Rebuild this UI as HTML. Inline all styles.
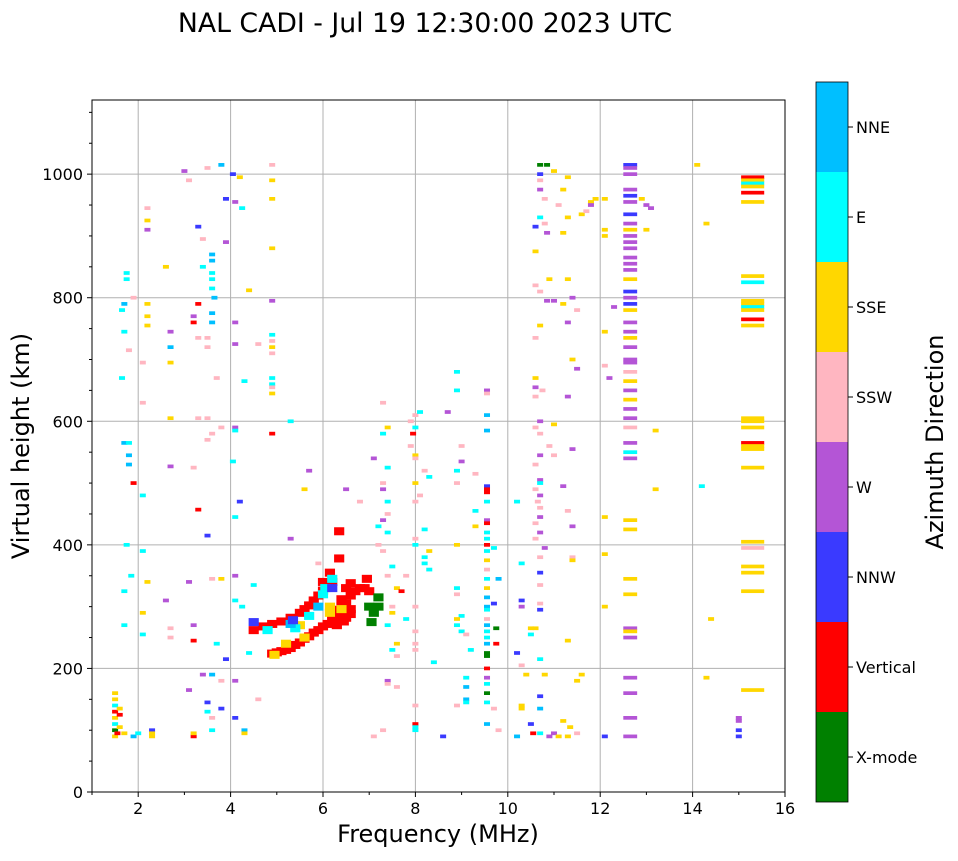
<!DOCTYPE html>
<html><head><meta charset="utf-8">
<style>
html,body{margin:0;padding:0;background:#fff;}
body{width:958px;height:857px;overflow:hidden;font-family:"DejaVu Sans",sans-serif;}
svg text{font-family:"DejaVu Sans",sans-serif;fill:#000;}
</style></head>
<body>
<svg id="chart" width="958" height="857" xmlns="http://www.w3.org/2000/svg">
<text x="425" y="32" font-size="26.7" text-anchor="middle">NAL CADI - Jul 19 12:30:00 2023 UTC</text>
<g id="grid"></g>
<g id="marks"></g>
<rect x="92" y="100" width="693" height="692" fill="none" stroke="#000" stroke-width="1"/>
<g id="axes"></g>
<text x="438" y="842" font-size="24" text-anchor="middle">Frequency (MHz)</text>
<text transform="translate(29,446) rotate(-90)" font-size="24" text-anchor="middle">Virtual height (km)</text>
<g id="cbar"></g>
<text transform="translate(943,442) rotate(-90)" font-size="24" text-anchor="middle">Azimuth Direction</text>
</svg>
<script>
const dirNames = ["X-mode","Vertical","NNW","W","SSW","SSE","E","NNE"];
const dirColors = ["#008000","#ff0000","#3a3aff","#b455d6","#ffb6c1","#ffd700","#00ffff","#00bfff"];
const xTicks = [2,4,6,8,10,12,14,16];
const yTicks = [0,200,400,600,800,1000];
// sweep bandwidth (MHz) of the wide-band columns: [centre freq, width]
const wideColumns = [[12.65,0.3],[15.3,0.5]];
// main trace echoes [freq MHz, height km, direction index]
const mainTrace = [
[4.9,224,1],[5.0,226,1],[5.1,228,1],[5.2,230,1],[5.3,233,1],[5.4,238,1],[5.5,242,1],[5.6,248,1],[5.7,252,1],[5.8,258,1],[5.9,262,1],[6.0,268,1],[6.1,272,1],[6.2,278,1],[6.3,282,1],[6.4,288,1],[6.5,292,1],[6.6,296,1],[6.2,290,1],[6.3,295,1],[6.4,300,1],[6.5,305,1],[6.4,312,1],[6.6,318,1],[6.7,325,1],[6.8,330,1],[6.5,330,1],[6.6,338,1],
[4.5,262,1],[4.7,268,1],[4.9,272,1],[5.1,276,1],[5.3,282,1],[5.5,290,1],[5.6,296,1],[5.7,302,1],[5.8,310,1],[5.9,318,1],[6.0,326,1],[6.1,335,1],[6.2,340,1],[6.0,340,1],
[6.35,422,1],[6.35,378,1],[6.15,355,1],[6.9,330,1],[7.0,325,1],[6.95,345,1],[6.2,285,1],[6.5,282,1],[6.6,288,1],[6.3,270,1],[6.45,276,1],
[6.15,300,5],[6.15,290,5],[5.2,240,5],[4.95,222,5],[5.5,270,5],[5.6,250,5],[6.4,296,5],
[6.0,320,6],[6.05,330,6],[5.7,285,6],[5.4,265,6],[4.8,262,6],[6.2,345,6],[5.9,300,7],[5.3,272,7],
[4.5,275,2],[6.2,330,2],[5.35,278,2],
[7.1,290,0],[7.0,300,0],[7.2,300,0],[7.05,275,0],[7.2,315,0]
];
// scattered echoes [freq MHz, height km, direction index]
const scatter = [
[1.5,90,5],[1.5,100,0],[1.5,110,6],[1.5,120,5],[1.5,130,1],[1.5,140,6],[1.5,150,5],[1.5,160,5],[1.55,95,1],[1.6,105,5],[1.6,125,1],[1.6,135,5],[1.7,95,5],[1.9,90,7],[2.0,95,6],[2.3,90,5],[2.3,100,2],[2.3,95,5],
[1.75,840,6],[1.75,830,6],[1.7,790,7],[1.65,780,6],[1.7,745,6],[1.65,670,6],[1.7,565,7],[1.8,565,6],[1.8,545,7],[1.8,530,7],[1.75,400,6],[1.85,350,6],[1.7,325,6],[1.7,270,6],[1.9,500,1],[1.9,800,4],[1.8,715,4],[2.1,390,6],[2.1,480,6],[2.1,255,6],
[2.2,945,4],[2.2,925,5],[2.2,910,3],[2.2,790,5],[2.2,770,5],[2.2,755,5],[2.1,695,4],[2.1,630,4],[2.2,340,5],[2.1,290,5],[2.6,850,5],[2.7,745,3],[2.7,720,7],[2.7,695,5],[2.7,605,5],[2.7,527,3],[2.7,265,4],[2.7,250,4],[2.6,310,3],
[3.0,1005,3],[3.1,990,4],[3.3,915,2],[3.4,895,4],[3.3,790,1],[3.2,760,1],[3.2,770,3],[3.3,735,4],[3.3,605,4],[3.5,605,4],[3.2,525,4],[3.3,457,1],[3.1,340,3],[3.2,245,1],[3.2,270,3],[3.4,190,3],[3.1,165,3],[3.2,90,1],[3.2,95,5],
[3.5,1010,4],[3.6,870,7],[3.6,860,7],[3.6,840,6],[3.6,830,6],[3.6,815,6],[3.65,800,7],[3.6,775,7],[3.6,760,7],[3.5,735,4],[3.5,720,4],[3.6,580,4],[3.5,570,4],[3.5,415,2],[3.6,345,4],[3.7,240,6],[3.6,190,7],[3.5,145,2],[3.5,130,6],[3.6,120,4],[3.6,100,6],[3.8,1015,7],[3.9,960,2],[3.9,890,3],[3.7,670,4],[3.8,590,4],[3.8,345,5],[3.9,215,2],[3.8,180,4],[3.8,135,2],[3.4,850,6],
[4.05,1000,2],[4.2,995,5],[4.1,955,3],[4.25,945,6],[4.1,760,3],[4.1,725,3],[4.1,590,3],[4.1,585,6],[4.05,535,6],[4.2,470,2],[4.1,445,6],[4.1,350,3],[4.1,310,6],[4.25,300,6],[4.1,180,3],[4.1,120,2],[4.3,100,7],[4.3,95,5],[4.4,812,5],[4.3,665,6],[4.4,225,6],[4.6,150,4],[4.5,335,6],[4.6,725,4],
[4.9,1015,4],[4.9,990,5],[4.9,960,5],[4.9,880,5],[4.9,795,3],[4.9,740,6],[4.9,730,4],[4.9,720,5],[4.9,710,4],[4.9,670,6],[4.9,660,6],[4.9,655,4],[4.9,645,5],[4.9,580,1],[5.3,600,6],[5.7,520,3],[5.6,490,5],[5.3,410,3],[5.9,370,4],[6.5,490,3],[6.8,470,4],[7.2,400,4],
[7.3,630,4],[7.4,590,5],[7.3,580,6],[7.1,540,3],[7.4,525,6],[7.3,500,4],[7.3,490,3],[7.4,470,6],[7.4,450,4],[7.3,440,3],[7.2,430,6],[7.4,420,6],[7.3,390,4],[7.5,365,6],[7.4,350,4],[7.6,330,5],[7.5,300,4],[7.5,290,5],[7.4,270,6],[7.6,240,5],[7.5,230,6],[7.6,220,4],[7.4,180,3],[7.4,175,4],[7.6,170,4],[7.3,100,4],[7.1,90,4],[7.7,325,1],[7.8,280,6],[7.9,560,4],
[8.0,610,4],[8.1,615,6],[7.9,600,4],[8.0,590,6],[7.95,580,1],[8.0,545,5],[8.0,540,4],[8.2,520,4],[8.3,510,6],[8.0,500,5],[8.1,480,4],[8.0,470,4],[8.2,425,6],[8.0,410,4],[8.0,400,6],[8.3,390,5],[8.2,380,6],[8.2,370,6],[8.3,360,6],[7.8,350,4],[8.0,300,4],[8.0,260,4],[8.0,240,4],[8.0,230,4],[8.0,140,4],[8.0,110,1],[8.0,105,6],[8.0,100,6],[8.4,210,6],[8.7,615,3],[8.6,90,2],
[8.9,680,6],[8.9,650,6],[9.0,560,4],[9.0,535,3],[8.9,520,6],[8.9,500,4],[8.9,400,5],[8.9,330,6],[8.9,320,4],[9.0,285,6],[8.9,280,5],[8.9,270,6],[9.0,260,6],[9.1,255,4],[9.2,230,6],[8.9,140,4],[9.1,185,6],[9.1,170,7],[9.1,150,7],[9.1,145,6],[9.3,515,4],[9.3,430,5],[9.3,455,6],
[9.55,650,3],[9.55,645,4],[9.55,610,7],[9.55,585,7],[9.55,495,2],[9.55,490,1],[9.55,485,1],[9.55,470,6],[9.55,440,3],[9.55,435,1],[9.55,420,6],[9.55,410,6],[9.55,400,1],[9.55,390,6],[9.55,375,5],[9.55,360,4],[9.55,345,6],[9.55,330,5],[9.55,315,7],[9.55,300,7],[9.55,295,6],[9.55,280,4],[9.55,270,7],[9.55,260,6],[9.55,250,6],[9.55,240,7],[9.55,225,0],[9.55,220,0],[9.55,200,1],[9.55,185,3],[9.55,175,6],[9.55,160,0],[9.55,145,6],[9.55,110,7],[9.7,305,2],[9.7,395,6],[9.75,265,0],[9.75,240,1],[9.8,345,7],[9.7,135,4],[9.8,100,4],
[10.2,470,6],[10.3,370,6],[10.3,310,2],[10.3,300,3],[10.2,225,2],[10.3,205,4],[10.3,140,5],[10.3,135,5],[10.2,90,7],[10.4,190,5],[10.5,265,5],[10.5,255,6],[10.55,95,1],[10.5,110,2],
[10.7,1015,0],[10.85,1015,0],[10.7,1000,2],[10.7,990,4],[10.7,975,3],[10.8,960,4],[10.7,930,6],[10.6,915,2],[10.8,920,4],[10.85,905,3],[10.6,875,5],[10.6,820,4],[10.7,810,4],[10.85,795,3],[10.7,755,5],[10.6,735,4],[10.6,670,5],[10.6,655,3],[10.75,650,4],[10.6,640,4],[10.7,600,3],[10.6,590,4],[10.7,580,4],[10.9,560,4],[10.7,545,3],[10.6,530,4],[10.7,505,3],[10.7,500,6],[10.6,490,4],[10.7,480,3],[10.65,470,4],[10.7,460,4],[10.7,445,3],[10.6,435,4],[10.7,420,3],[10.6,410,4],[10.8,395,3],[10.7,380,4],[10.7,355,2],[10.7,335,4],[10.7,305,4],[10.7,295,2],[10.6,265,5],[10.7,215,6],[10.7,155,2],[10.8,190,5],[10.7,135,7],[10.7,95,6],[10.9,90,3],[11.0,95,3],
[11.0,1005,5],[11.3,995,5],[11.2,975,5],[11.1,950,4],[11.3,930,5],[11.6,935,5],[11.7,940,4],[11.8,955,5],[11.9,960,5],[11.8,950,3],[11.2,905,5],[10.9,830,5],[11.0,795,3],[11.2,790,5],[11.3,830,5],[11.4,800,3],[11.5,780,4],[11.3,760,3],[11.4,700,5],[11.5,685,3],[11.0,595,5],[11.3,640,3],[11.4,555,3],[11.0,545,4],[11.2,495,3],[11.3,455,4],[11.4,430,3],[11.4,380,4],[11.4,375,5],[11.5,180,5],[11.6,190,5],[11.3,245,5],[11.2,115,5],[11.35,105,5],[11.5,95,4],[11.3,90,5],[11.1,90,5],
[12.1,960,5],[12.1,910,5],[12.1,900,5],[12.3,785,3],[12.1,745,5],[12.1,690,4],[12.2,670,3],[12.1,445,5],[12.1,385,5],[12.1,300,5],[12.1,90,2],
[12.65,1015,2],[12.65,1010,3],[12.65,1000,3],[12.65,975,3],[12.65,965,2],[12.65,955,3],[12.65,935,2],[12.65,920,3],[12.65,910,5],[12.65,900,3],[12.65,890,3],[12.65,880,3],[12.65,865,3],[12.65,855,3],[12.65,845,3],[12.65,830,5],[12.65,810,2],[12.65,800,3],[12.65,790,2],[12.65,780,5],[12.65,760,3],[12.65,745,3],[12.65,735,5],[12.65,720,3],[12.65,700,3],[12.65,695,3],[12.65,680,4],[12.65,665,5],[12.65,650,3],[12.65,635,5],[12.65,620,3],[12.65,605,3],[12.65,590,4],[12.65,565,3],[12.65,550,6],[12.65,540,3],[12.65,440,5],[12.65,425,5],[12.65,345,5],[12.65,320,5],[12.65,265,3],[12.65,260,5],[12.65,250,3],[12.65,185,3],[12.65,160,3],[12.65,120,3],[12.65,90,3],[12.9,960,5],[13.0,910,5],[13.0,950,3],[13.1,945,3],[13.2,585,5],[13.2,490,5],
[14.1,1015,5],[14.3,920,5],[14.2,495,6],[14.4,280,5],[14.3,185,5],
[15.3,995,1],[15.3,990,5],[15.3,985,6],[15.3,980,5],[15.3,970,1],[15.3,955,5],[15.3,835,5],[15.3,825,6],[15.3,795,5],[15.3,790,5],[15.3,785,6],[15.3,780,5],[15.3,765,1],[15.3,755,5],[15.3,605,5],[15.3,600,5],[15.3,590,5],[15.3,565,1],[15.3,560,5],[15.3,555,5],[15.3,525,5],[15.3,405,5],[15.3,395,4],[15.3,365,5],[15.3,355,5],[15.3,325,5],[15.3,165,5],[15.0,120,3],[15.0,115,3],[15.0,100,2],[15.0,90,2]
];
const freqMin=1, freqMax=16, hMin=0, hMax=1120;
const px0=92, px1=785, py0=792, py1=100;
function xs(f){return px0+(f-freqMin)/(freqMax-freqMin)*(px1-px0);}
function ys(h){return py0-(h-hMin)/(hMax-hMin)*(py0-py1);}
const NS="http://www.w3.org/2000/svg";
function mk(tag,attrs,parent){const e=document.createElementNS(NS,tag);for(const k in attrs)e.setAttribute(k,attrs[k]);parent.appendChild(e);return e;}
const grid=document.getElementById('grid'), axes=document.getElementById('axes'), marks=document.getElementById('marks'), cbar=document.getElementById('cbar');
xTicks.forEach(t=>{
  if(t<16){const l=mk('line',{x1:xs(t),x2:xs(t),y1:py1,y2:py0,stroke:'#b0b0b0','stroke-width':1},grid);
  
  }
  mk('line',{x1:xs(t),x2:xs(t),y1:py0,y2:py0+5,stroke:'#000'},axes);
  const tx=mk('text',{x:xs(t),y:py0+22,'font-size':16,'text-anchor':'middle'},axes);tx.textContent=t;
  
  
});
for(let m=1;m<=15;m+=2){mk('line',{x1:xs(m),x2:xs(m),y1:py0,y2:py0+3,stroke:'#000'},axes);}
yTicks.forEach(t=>{
  if(t>0){const l=mk('line',{x1:px0,x2:px1,y1:ys(t),y2:ys(t),stroke:'#b0b0b0','stroke-width':1},grid);
  
  }
  mk('line',{x1:px0-5,x2:px0,y1:ys(t),y2:ys(t),stroke:'#000'},axes);
  const tx=mk('text',{x:px0-9,y:ys(t)+6,'font-size':16,'text-anchor':'end'},axes);tx.textContent=t;
  
  
});
for(let m=50;m<1120;m+=50){if(m%200)mk('line',{x1:px0-3,x2:px0,y1:ys(m),y2:ys(m),stroke:'#000'},axes);}
function colWidth(f,def){for(const c of wideColumns){if(Math.abs(c[0]-f)<0.05)return c[1];}return def;}
function drawEcho(p,w,h,name){
  w=colWidth(p[0],w);
  const r=mk('rect',{x:xs(p[0]-w/2),y:ys(p[1]+h/2),width:xs(freqMin+w)-px0,height:ys(hMin)-ys(hMin+h),fill:dirColors[p[2]]},marks);
  
  
}
scatter.forEach(p=>drawEcho(p,0.13,6,'echo-'+dirNames[p[2]].toLowerCase()));
mainTrace.forEach(p=>drawEcho(p,0.22,13,'trace-echo-'+dirNames[p[2]].toLowerCase()));
const cbTop=82, cbH=90;
dirNames.forEach((n,i)=>{
  const y=cbTop+(7-i)*cbH;
  const r=mk('rect',{x:816,y:y,width:32,height:cbH,fill:dirColors[i]},cbar);
  
  
  mk('line',{x1:848,x2:853,y1:y+cbH/2,y2:y+cbH/2,stroke:'#000'},cbar);
  const tx=mk('text',{x:856,y:y+cbH/2+6,'font-size':16},cbar);tx.textContent=n;
  
  
});
mk('rect',{x:816,y:cbTop,width:32,height:cbH*8,fill:'none',stroke:'#000','stroke-width':0.8},cbar);
</script>
</body></html>
